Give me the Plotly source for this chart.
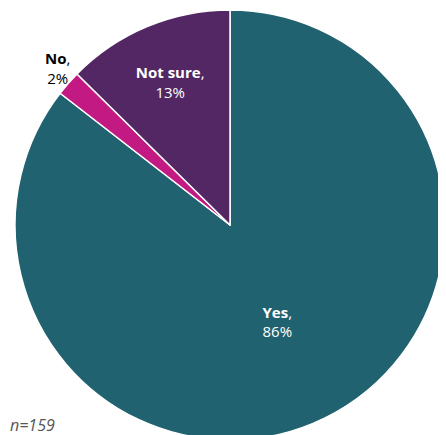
import plotly.graph_objects as go

labels = ["Yes", "No", "Not sure"]
values = [85.5, 1.9, 12.6]
pct_text = ["86%", "2%", "13%"]
colors = ["#20626F", "#C21A82", "#532763"]
note = "n=159"

texts = [f"<b>{l}</b>,<br>{p}" for l, p in zip(labels, pct_text)]

fig = go.Figure(go.Pie(
    labels=labels,
    values=values,
    text=texts,
    textinfo="text",
    sort=False,
    direction="clockwise",
    rotation=0,
    marker=dict(colors=colors, line=dict(color="white", width=1.5)),
    textposition=["inside", "none", "inside"],
    insidetextorientation="horizontal",
    textfont=dict(family="Open Sans", size=15, color="white"),
    showlegend=False,
    hoverinfo="label+percent",
))

# outside label for the small "No" slice
fig.add_annotation(
    text=texts[1], x=0.098, y=0.865, xref="paper", yref="paper",
    xanchor="center", yanchor="middle", showarrow=False, align="center",
    font=dict(family="Open Sans", size=15, color="black"),
)

fig.add_annotation(
    text=f"<i>{note}</i>", x=-0.016, y=0.035, xref="paper", yref="paper",
    xanchor="left", yanchor="middle", showarrow=False,
    font=dict(family="Open Sans", size=16, color="#555555"),
)

fig.update_layout(
    width=438, height=432,
    margin=dict(l=7, r=1, t=2, b=0),
    paper_bgcolor="white", plot_bgcolor="white",
)

fig.write_html("out.html")
